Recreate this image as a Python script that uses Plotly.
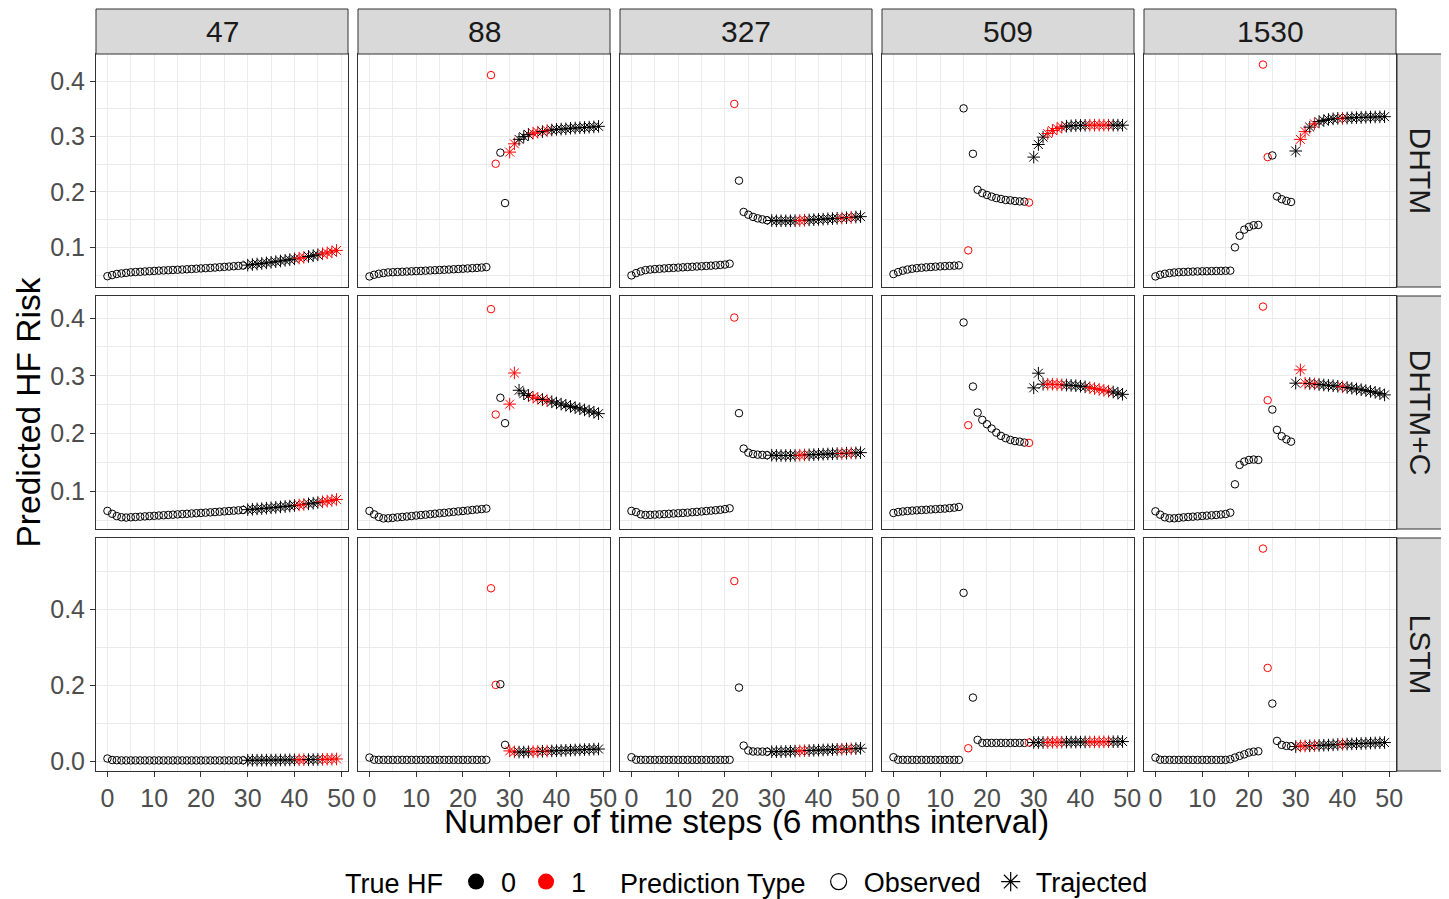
import plotly.graph_objects as go
from plotly.subplots import make_subplots

patients = ["47", "88", "327", "509", "1530"]
models = ["DHTM", "DHTM+C", "LSTM"]
steps = list(range(50))
first_trajected_step = 30

# time steps with true HF = 1, per patient
true_hf_steps = {
    "47": [41, 42, 46, 47, 48, 49],
    "88": [26, 27, 30, 31, 35, 36, 38],
    "327": [22, 36, 37, 45, 47],
    "509": [16, 29, 33, 34, 35, 36, 42, 43, 44, 45, 46],
    "1530": [23, 24, 31, 32, 34, 40],
}

# predicted HF risk, steps 0..49
risk_dhtm_47 = [0.048, 0.050, 0.052, 0.053, 0.054, 0.055, 0.0555, 0.056, 0.0565, 0.057,
                0.0575, 0.058, 0.0584, 0.0588, 0.0592, 0.0596, 0.060, 0.0605, 0.061, 0.0615,
                0.062, 0.0625, 0.063, 0.0636, 0.0642, 0.0648, 0.0654, 0.066, 0.0666, 0.0672,
                0.0680, 0.0690, 0.0700, 0.0710, 0.0720, 0.0731, 0.0742, 0.0754, 0.0766, 0.0779,
                0.0793, 0.0807, 0.0821, 0.0836, 0.0851, 0.0867, 0.0884, 0.0901, 0.0919, 0.0945]
risk_dhtmc_47 = [0.066, 0.061, 0.057, 0.055, 0.0545, 0.055, 0.0555, 0.056, 0.0565, 0.057,
                 0.0575, 0.058, 0.0585, 0.059, 0.0595, 0.060, 0.0605, 0.061, 0.0615, 0.062,
                 0.0625, 0.063, 0.0635, 0.064, 0.0646, 0.0652, 0.0658, 0.0664, 0.067, 0.0676,
                 0.0682, 0.0688, 0.0694, 0.070, 0.0707, 0.0714, 0.0721, 0.0729, 0.0737, 0.0745,
                 0.0754, 0.0763, 0.0773, 0.0783, 0.0794, 0.0805, 0.0817, 0.0829, 0.0842, 0.0858]
risk_lstm_47 = [0.008, 0.004, 0.0035, 0.003, 0.003, 0.003, 0.003, 0.003, 0.003, 0.003,
                0.003, 0.003, 0.003, 0.003, 0.003, 0.003, 0.003, 0.003, 0.003, 0.003,
                0.003, 0.003, 0.003, 0.003, 0.003, 0.003, 0.003, 0.003, 0.0032, 0.0033,
                0.0034, 0.0035, 0.0036, 0.0037, 0.0038, 0.0039, 0.004, 0.0041, 0.0042, 0.0043,
                0.0045, 0.0047, 0.0049, 0.0051, 0.0053, 0.0055, 0.0058, 0.0061, 0.0064, 0.0068]

risk_dhtm_88 = [0.0476, 0.0506, 0.0524, 0.0536, 0.0548, 0.0552, 0.0556, 0.056, 0.0564, 0.0568,
                0.0572, 0.0576, 0.058, 0.0584, 0.0588, 0.0592, 0.0596, 0.060, 0.0605, 0.061,
                0.0615, 0.062, 0.0625, 0.063, 0.0636, 0.0644, 0.411, 0.251, 0.271, 0.180,
                0.272, 0.287, 0.295, 0.300, 0.304, 0.306, 0.308, 0.309, 0.311, 0.312,
                0.313, 0.3135, 0.314, 0.315, 0.3155, 0.316, 0.3165, 0.317, 0.3175, 0.3185]
risk_dhtmc_88 = [0.066, 0.060, 0.0555, 0.053, 0.0532, 0.054, 0.0548, 0.0556, 0.0563, 0.0571,
                 0.058, 0.0588, 0.0595, 0.0603, 0.0612, 0.062, 0.0627, 0.0635, 0.0644, 0.0652,
                 0.0659, 0.0667, 0.0676, 0.0684, 0.0691, 0.070, 0.4156, 0.233, 0.262, 0.218,
                 0.251, 0.305, 0.275, 0.269, 0.266, 0.263, 0.261, 0.259, 0.257, 0.255,
                 0.253, 0.251, 0.249, 0.247, 0.245, 0.243, 0.241, 0.239, 0.237, 0.2345]
risk_lstm_88 = [0.0105, 0.0048, 0.0045, 0.0044, 0.0044, 0.0044, 0.0044, 0.0044, 0.0044, 0.0044,
                0.0044, 0.0044, 0.0044, 0.0044, 0.0044, 0.0044, 0.0044, 0.0044, 0.0044, 0.0044,
                0.0044, 0.0044, 0.0044, 0.0044, 0.0044, 0.0045, 0.456, 0.2018, 0.2035, 0.0439,
                0.028, 0.0254, 0.025, 0.025, 0.0255, 0.026, 0.0265, 0.027, 0.0275, 0.028,
                0.0285, 0.029, 0.0295, 0.030, 0.0305, 0.031, 0.0315, 0.032, 0.0325, 0.033]

risk_dhtm_327 = [0.0494, 0.0536, 0.0566, 0.059, 0.060, 0.0608, 0.0614, 0.062, 0.0626, 0.063,
                 0.0635, 0.064, 0.0645, 0.065, 0.0655, 0.066, 0.0665, 0.067, 0.0676, 0.0683,
                 0.069, 0.0705, 0.359, 0.2205, 0.164, 0.159, 0.155, 0.1524, 0.1506, 0.149,
                 0.1485, 0.148, 0.148, 0.148, 0.148, 0.1482, 0.1485, 0.149, 0.1495, 0.150,
                 0.1505, 0.151, 0.1515, 0.152, 0.1525, 0.153, 0.1536, 0.1542, 0.1548, 0.1555]
risk_dhtmc_327 = [0.0659, 0.064, 0.060, 0.059, 0.0592, 0.0596, 0.060, 0.0605, 0.061, 0.0615,
                  0.062, 0.0625, 0.063, 0.0637, 0.0644, 0.065, 0.0658, 0.0665, 0.0672, 0.068,
                  0.069, 0.0705, 0.401, 0.2353, 0.174, 0.167, 0.1645, 0.1635, 0.163, 0.1625,
                  0.1625, 0.1622, 0.162, 0.162, 0.162, 0.1622, 0.1625, 0.163, 0.1632, 0.1635,
                  0.164, 0.1643, 0.1646, 0.165, 0.1653, 0.1656, 0.166, 0.1663, 0.1666, 0.167]
risk_lstm_327 = [0.0114, 0.0048, 0.0045, 0.0044, 0.0044, 0.0044, 0.0044, 0.0044, 0.0044, 0.0044,
                 0.0044, 0.0044, 0.0044, 0.0044, 0.0044, 0.0044, 0.0044, 0.0044, 0.0044, 0.0044,
                 0.0044, 0.0045, 0.475, 0.1947, 0.042, 0.029, 0.0265, 0.0263, 0.0262, 0.026,
                 0.026, 0.026, 0.0262, 0.0265, 0.027, 0.0275, 0.028, 0.0285, 0.029, 0.0295,
                 0.030, 0.0305, 0.031, 0.0315, 0.032, 0.0325, 0.033, 0.0335, 0.034, 0.035]

risk_dhtm_509 = [0.0518, 0.0554, 0.058, 0.060, 0.0615, 0.0625, 0.0633, 0.064, 0.0646, 0.0652,
                 0.0657, 0.0662, 0.0666, 0.067, 0.0675, 0.351, 0.0946, 0.269, 0.204, 0.198,
                 0.1946, 0.1916, 0.189, 0.1874, 0.1856, 0.185, 0.1838, 0.183, 0.1826, 0.181,
                 0.263, 0.2857, 0.299, 0.3055, 0.311, 0.3146, 0.317, 0.3188, 0.3195, 0.320,
                 0.3203, 0.3205, 0.3206, 0.3207, 0.3207, 0.3207, 0.3207, 0.3207, 0.3207, 0.3206]
risk_dhtmc_509 = [0.0624, 0.064, 0.065, 0.0658, 0.0665, 0.067, 0.0675, 0.068, 0.0685, 0.069,
                  0.0696, 0.070, 0.0708, 0.0716, 0.0728, 0.3925, 0.2145, 0.2815, 0.2364, 0.2237,
                  0.2162, 0.2087, 0.2017, 0.196, 0.192, 0.189, 0.187, 0.186, 0.1844, 0.1838,
                  0.2792, 0.3046, 0.2855, 0.2855, 0.2855, 0.285, 0.2845, 0.284, 0.2835, 0.283,
                  0.282, 0.281, 0.2795, 0.278, 0.2765, 0.275, 0.2735, 0.272, 0.270, 0.268]
risk_lstm_509 = [0.0114, 0.0048, 0.0045, 0.0044, 0.0044, 0.0044, 0.0044, 0.0044, 0.0044, 0.0044,
                 0.0044, 0.0044, 0.0044, 0.0044, 0.0045, 0.444, 0.035, 0.1684, 0.057, 0.049,
                 0.049, 0.049, 0.049, 0.049, 0.049, 0.049, 0.049, 0.049, 0.049, 0.050,
                 0.050, 0.050, 0.0502, 0.0504, 0.0506, 0.0508, 0.051, 0.0511, 0.0512, 0.0513,
                 0.0514, 0.0515, 0.0516, 0.0517, 0.0518, 0.052, 0.0521, 0.0523, 0.0524, 0.0526]

risk_dhtm_1530 = [0.0476, 0.0506, 0.0524, 0.0536, 0.0546, 0.0552, 0.0556, 0.056, 0.0563, 0.0566,
                  0.0568, 0.057, 0.0572, 0.0574, 0.0576, 0.0578, 0.058, 0.100, 0.121, 0.132,
                  0.137, 0.140, 0.1405, 0.430, 0.263, 0.266, 0.192, 0.187, 0.184, 0.182,
                  0.274, 0.295, 0.309, 0.317, 0.323, 0.327, 0.329, 0.331, 0.332, 0.333,
                  0.333, 0.3335, 0.334, 0.3343, 0.3346, 0.335, 0.3352, 0.3355, 0.3357, 0.336]
risk_dhtmc_1530 = [0.0653, 0.0595, 0.055, 0.0532, 0.0532, 0.054, 0.0548, 0.0555, 0.056, 0.0566,
                   0.0572, 0.0578, 0.0584, 0.059, 0.0598, 0.0606, 0.063, 0.1121, 0.1457, 0.1514,
                   0.1543, 0.155, 0.1543, 0.420, 0.2578, 0.2416, 0.2064, 0.1954, 0.190, 0.186,
                   0.2873, 0.3104, 0.2873, 0.2867, 0.286, 0.285, 0.2842, 0.2835, 0.2828, 0.282,
                   0.281, 0.2798, 0.2785, 0.2772, 0.276, 0.2745, 0.273, 0.2715, 0.2695, 0.267]
risk_lstm_1530 = [0.0105, 0.0048, 0.0045, 0.0044, 0.0044, 0.0044, 0.0044, 0.0044, 0.0044, 0.0044,
                  0.0044, 0.0044, 0.0044, 0.0044, 0.0044, 0.0044, 0.006, 0.0105, 0.015, 0.019,
                  0.0237, 0.026, 0.027, 0.5605, 0.2465, 0.1526, 0.0544, 0.0439, 0.0412, 0.0404,
                  0.0395, 0.041, 0.041, 0.0415, 0.042, 0.0425, 0.043, 0.0435, 0.044, 0.045,
                  0.0456, 0.046, 0.0465, 0.047, 0.0475, 0.048, 0.0485, 0.049, 0.0495, 0.050]

risk = {
    ("DHTM", "47"): risk_dhtm_47, ("DHTM+C", "47"): risk_dhtmc_47, ("LSTM", "47"): risk_lstm_47,
    ("DHTM", "88"): risk_dhtm_88, ("DHTM+C", "88"): risk_dhtmc_88, ("LSTM", "88"): risk_lstm_88,
    ("DHTM", "327"): risk_dhtm_327, ("DHTM+C", "327"): risk_dhtmc_327, ("LSTM", "327"): risk_lstm_327,
    ("DHTM", "509"): risk_dhtm_509, ("DHTM+C", "509"): risk_dhtmc_509, ("LSTM", "509"): risk_lstm_509,
    ("DHTM", "1530"): risk_dhtm_1530, ("DHTM+C", "1530"): risk_dhtmc_1530, ("LSTM", "1530"): risk_lstm_1530,
}

x_ticks = [0, 10, 20, 30, 40, 50]
y_ticks_row = {"DHTM": [0.1, 0.2, 0.3, 0.4], "DHTM+C": [0.1, 0.2, 0.3, 0.4], "LSTM": [0.0, 0.2, 0.4]}

FONT = "Liberation Sans, Arial, Helvetica, sans-serif"
BLACK = "#000000"
RED = "#FF0000"

# the page body adds an 8px offset; the figure is sized to compensate
FIG_W, FIG_H = 1441, 891
ML, MR, MT, MB = 88, 53, 46, 128
W, H = FIG_W - ML - MR, FIG_H - MT - MB  # 1300 x 717

fig = make_subplots(rows=3, cols=5, horizontal_spacing=10 / W, vertical_spacing=9 / H)

for r, model in enumerate(models, start=1):
    vals_row = [v for p in patients for v in risk[(model, p)]]
    lo, hi = min(vals_row), max(vals_row)
    pad = (hi - lo) * 0.05
    yrange = [lo - pad, hi + pad]
    for c, pat in enumerate(patients, start=1):
        vals = risk[(model, pat)]
        cols = [RED if s in true_hf_steps[pat] else BLACK for s in steps]
        obs = [i for i, s in enumerate(steps) if s < first_trajected_step]
        trj = [i for i, s in enumerate(steps) if s >= first_trajected_step]
        fig.add_trace(go.Scatter(
            x=[steps[i] for i in obs], y=[vals[i] for i in obs], mode="markers",
            marker=dict(symbol="circle-open", size=7.5, color=[cols[i] for i in obs], line=dict(width=1)),
            showlegend=False, hoverinfo="x+y"), row=r, col=c)
        fig.add_trace(go.Scatter(
            x=[steps[i] for i in trj], y=[vals[i] for i in trj], mode="markers",
            marker=dict(symbol="asterisk-open", size=10.5, color=[cols[i] for i in trj], line=dict(width=1)),
            showlegend=False, hoverinfo="x+y"), row=r, col=c)
        fig.update_xaxes(row=r, col=c, range=[-2.45, 51.45], tickvals=x_ticks,
                         showticklabels=(r == 3), ticks="outside" if r == 3 else "",
                         ticklen=5, tickcolor="#333333",
                         tickfont=dict(size=25, color="#4D4D4D", family=FONT),
                         showgrid=True, gridcolor="#EBEBEB", gridwidth=1.1,
                         minor=dict(dtick=5, tick0=0, showgrid=True, gridcolor="#EBEBEB", gridwidth=0.6),
                         showline=True, mirror=True, linecolor="#333333", linewidth=1, zeroline=False)
        yt = y_ticks_row[model]
        ystep = yt[1] - yt[0]
        fig.update_yaxes(row=r, col=c, range=yrange, tickvals=yt, tickformat=".1f",
                         showticklabels=(c == 1), ticks="outside" if c == 1 else "",
                         ticklen=5, tickcolor="#333333",
                         tickfont=dict(size=25, color="#4D4D4D", family=FONT),
                         showgrid=True, gridcolor="#EBEBEB", gridwidth=1.1,
                         minor=dict(dtick=ystep / 2, tick0=yt[0] - ystep / 2, showgrid=True,
                                    gridcolor="#EBEBEB", gridwidth=0.6),
                         showline=True, mirror=True, linecolor="#333333", linewidth=1, zeroline=False)

# legend entries
fig.add_trace(go.Scatter(x=[None], y=[None], mode="markers", name="0",
                         marker=dict(symbol="circle", size=20, color=BLACK), legend="legend"))
fig.add_trace(go.Scatter(x=[None], y=[None], mode="markers", name="1",
                         marker=dict(symbol="circle", size=20, color=RED), legend="legend"))
fig.add_trace(go.Scatter(x=[None], y=[None], mode="markers", name="Observed",
                         marker=dict(symbol="circle-open", size=20, color=BLACK, line=dict(width=1.2)),
                         legend="legend2"))
fig.add_trace(go.Scatter(x=[None], y=[None], mode="markers", name="Trajected",
                         marker=dict(symbol="asterisk-open", size=24, color=BLACK, line=dict(width=1.2)),
                         legend="legend2"))

shapes = []
annotations = []
for c, pat in enumerate(patients, start=1):
    dom = fig.layout[f"xaxis{'' if c == 1 else c}"].domain
    shapes.append(dict(type="rect", xref="paper", yref="paper", x0=dom[0], x1=dom[1],
                       y0=1.0, y1=1 + 45 / H, fillcolor="#D9D9D9",
                       line=dict(color="#333333", width=1)))
    annotations.append(dict(text=pat, x=(dom[0] + dom[1]) / 2, y=1 + 22.5 / H, xref="paper", yref="paper",
                            showarrow=False, font=dict(size=30, color="#1A1A1A", family=FONT),
                            xanchor="center", yanchor="middle"))
for r, model in enumerate(models, start=1):
    idx = (r - 1) * 5 + 1
    dom = fig.layout[f"yaxis{'' if idx == 1 else idx}"].domain
    shapes.append(dict(type="rect", xref="paper", yref="paper", x0=1 + 1 / W, x1=1 + 47 / W,
                       y0=dom[0], y1=dom[1], fillcolor="#D9D9D9",
                       line=dict(color="#333333", width=1)))
    annotations.append(dict(text=model, x=1 + 24 / W, y=(dom[0] + dom[1]) / 2, xref="paper", yref="paper",
                            showarrow=False, textangle=90, font=dict(size=30, color="#1A1A1A", family=FONT),
                            xanchor="center", yanchor="middle"))

annotations.append(dict(text="Number of time steps (6 months interval)", x=0.5, y=-51 / H,
                        xref="paper", yref="paper", showarrow=False, xanchor="center", yanchor="middle",
                        font=dict(size=33.5, color="#000000", family=FONT)))
annotations.append(dict(text="Predicted HF Risk", x=-68 / W, y=0.5, xref="paper", yref="paper",
                        showarrow=False, textangle=-90, xanchor="center", yanchor="middle",
                        font=dict(size=33.5, color="#000000", family=FONT)))

fig.update_layout(
    width=FIG_W, height=FIG_H,
    margin=dict(l=ML, r=MR, t=MT, b=MB, autoexpand=False),
    paper_bgcolor="white", plot_bgcolor="white",
    font=dict(family=FONT, color="#000000"),
    shapes=shapes, annotations=annotations,
    legend=dict(orientation="h", x=(343 - 96) / W, y=-111 / H, xanchor="left", yanchor="middle",
                title=dict(text="True HF", side="left", font=dict(size=27)),
                font=dict(size=27), itemwidth=40, bgcolor="rgba(0,0,0,0)"),
    legend2=dict(orientation="h", x=(618 - 96) / W, y=-111 / H, xanchor="left", yanchor="middle",
                 title=dict(text="Prediction Type", side="left", font=dict(size=27)),
                 font=dict(size=27), itemwidth=40, bgcolor="rgba(0,0,0,0)"),
)

fig.write_html("out.html")
